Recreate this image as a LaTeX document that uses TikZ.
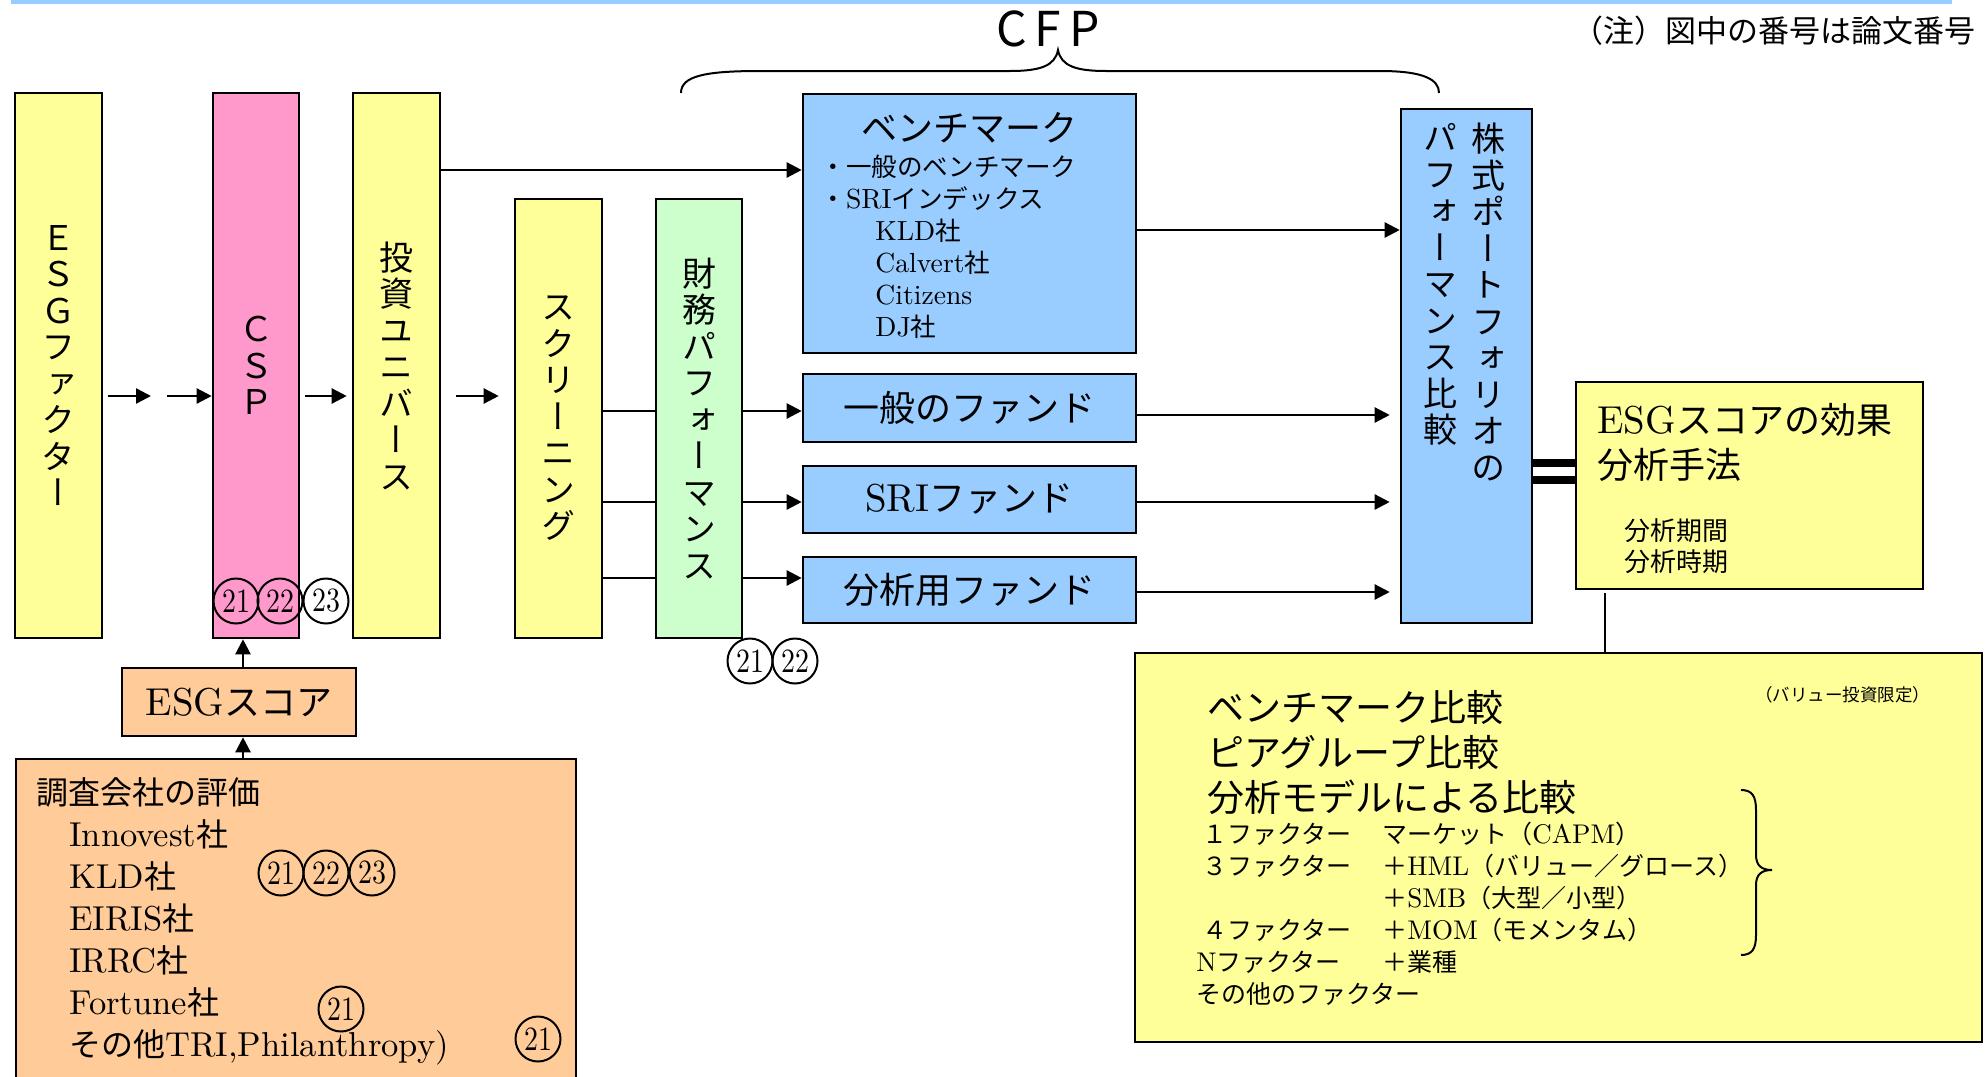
\documentclass[tikz,border=0pt]{standalone}
\usepackage{fontspec}
\setmainfont{Noto Sans CJK JP}
\newfontfamily\jpv[RawFeature=+vert]{Noto Sans CJK JP}
\newfontfamily\lat[Scale=1.08]{lmroman10-regular.otf}
\newfontfamily\latc[FakeStretch=0.82]{lmroman10-regular.otf}
\usetikzlibrary{arrows.meta}
\definecolor{cyel}{HTML}{FFFF99}
\definecolor{cpink}{HTML}{FF99CC}
\definecolor{cgreen}{HTML}{CCFFCC}
\definecolor{cblue}{HTML}{99CCFF}
\definecolor{corange}{HTML}{FFCC99}
\tikzset{
  box/.style={draw, line width=1.3pt, inner sep=0pt},
  vt/.style={font=\jpv\fontsize{17}{18.25}\selectfont, align=center, inner sep=0pt},
  arr/.style={line width=1.2pt, -{Triangle[length=7.5pt,width=7.5pt]}},
  ln/.style={line width=1.2pt},
  num/.style={draw, circle, line width=1pt, minimum size=22.5pt, inner sep=0pt, font=\latc\fontsize{17}{17}\selectfont},
  txt/.style={inner sep=0pt, align=left},
}
\begin{document}
\begin{tikzpicture}[x=0.5pt,y=-0.5pt]
\useasboundingbox (0,0) rectangle (1986,1076);
\fill[cblue] (11,0) rectangle (1952,4);

% title and note
\node[inner sep=0pt, font=\fontsize{24}{24}\selectfont] (cfp) at (1048,29) {C\hspace{4pt}F\hspace{4pt}P};
\node[inner sep=0pt, anchor=east, font=\fontsize{15.5}{15.5}\selectfont] (note) at (1976,31) {（注）図中の番号は論文番号};
\draw[line width=1pt] (681,93) .. controls (681,76) and (705,71) .. (760,71) -- (1010,71)
  .. controls (1040,71) and (1055,66) .. (1058,50) .. controls (1061,66) and (1076,71) .. (1106,71)
  -- (1380,71) .. controls (1425,71) and (1439,80) .. (1439,93);

% vertical boxes
\node[box, fill=cyel, minimum width=43.5pt, minimum height=272.5pt, vt] (esg) at (58.5,365.5) {Ｅ\\Ｓ\\Ｇ\\フ\\ァ\\ク\\タ\\ー};
\node[box, fill=cpink, minimum width=43pt, minimum height=272.5pt, vt] (csp) at (256,365.5) {Ｃ\\Ｓ\\Ｐ};
\node[box, fill=cyel, minimum width=43.5pt, minimum height=272.5pt, vt] (inv) at (396.5,365.5) {投\\資\\ユ\\ニ\\バ\\ー\\ス};
\node[box, fill=cyel, minimum width=43.5pt, minimum height=219.5pt, vt] (scr) at (558.5,418.5) {ス\\ク\\リ\\ー\\ニ\\ン\\グ};
\node[box, fill=cgreen, minimum width=43pt, minimum height=219.5pt, vt] (fin) at (699,418.5) {財\\務\\パ\\フ\\ォ\\ー\\マ\\ン\\ス};

% benchmark box
\node[box, fill=cblue, minimum width=166.5pt, minimum height=129.5pt] (bm) at (969.5,223.5) {};
\node[inner sep=0pt, font=\fontsize{18}{18}\selectfont] (bmt) at (969.5,128) {ベンチマーク};
\node[txt, anchor=north west, font=\fontsize{12.8}{16}\selectfont] (bml) at (820,155)
  {・一般のベンチマーク\\・{\lat SRI}インデックス\\\hspace*{27.5pt}{\lat KLD}社\\\hspace*{27.5pt}{\lat Calvert}社\\\hspace*{27.5pt}{\lat Citizens}\\\hspace*{27.5pt}{\lat DJ}社};

% fund boxes
\node[box, fill=cblue, minimum width=166.5pt, minimum height=34pt, font=\fontsize{18}{18}\selectfont] (f1) at (969.5,408) {一般のファンド};
\node[box, fill=cblue, minimum width=166.5pt, minimum height=33.5pt, font=\fontsize{18}{18}\selectfont] (f2) at (969.5,499.5) {{\lat SRI}ファンド};
\node[box, fill=cblue, minimum width=166.5pt, minimum height=33pt, font=\fontsize{18}{18}\selectfont] (f3) at (969.5,590) {分析用ファンド};

% portfolio box
\node[box, fill=cblue, minimum width=65.5pt, minimum height=257pt] (port) at (1466.5,366) {};
\node[vt, anchor=north] (portR) at (1488,123) {株\\式\\ポ\\ー\\ト\\フ\\ォ\\リ\\オ\\の};
\node[vt, anchor=north] (portL) at (1440,123) {パ\\フ\\ォ\\ー\\マ\\ン\\ス\\比\\較};

% effect box
\node[box, fill=cyel, minimum width=173.5pt, minimum height=103.5pt] (eff) at (1749.5,485.5) {};
\node[txt, anchor=north west, font=\fontsize{18}{22.5}\selectfont] (effT) at (1597,403) {{\lat ESG}スコアの効果\\分析手法};
\node[txt, anchor=north west, font=\fontsize{13}{15.5}\selectfont] (effS) at (1624,518) {分析期間\\分析時期};

% big box
\node[box, fill=cyel, minimum width=423.5pt, minimum height=194.5pt] (big) at (1558.5,847.5) {};
\node[txt, anchor=north west, font=\fontsize{18.5}{22.5}\selectfont] (bigT) at (1207,690) {ベンチマーク比較\\ピアグループ比較\\分析モデルによる比較};
\node[txt, anchor=north west, font=\fontsize{12.5}{16}\selectfont] (bigS) at (1202,822)
  {\makebox[90pt][l]{１ファクター}マーケット（{\lat CAPM}）\\
   \makebox[90pt][l]{３ファクター}＋{\lat HML}（バリュー／グロース）\\
   \makebox[90pt][l]{}＋{\lat SMB}（大型／小型）\\
   \makebox[90pt][l]{４ファクター}＋{\lat MOM}（モメンタム）\\
   \hspace*{-3pt}\makebox[93pt][l]{{\lat N}ファクター}＋業種\\
   \hspace*{-3pt}その他のファクター};
\node[inner sep=0pt, anchor=west, font=\fontsize{8.75}{8.75}\selectfont] (val) at (1755,695) {（バリュー投資限定）};
\draw[line width=1pt] (1741,790) .. controls (1752,790) and (1756,796) .. (1756,810) -- (1756,855)
  .. controls (1756,866) and (1762,870) .. (1772,870) .. controls (1762,870) and (1756,874) .. (1756,885)
  -- (1756,935) .. controls (1756,949) and (1752,955) .. (1741,955);

% ESG score and survey
\node[box, fill=corange, minimum width=117pt, minimum height=34pt, font=\fontsize{18}{18}\selectfont] (esgscore) at (239,702) {{\lat ESG}スコア};
\node[box, fill=corange, minimum width=280pt, minimum height=160.5pt] (survey) at (296,919.5) {};
\node[txt, anchor=north west, font=\fontsize{16}{21}\selectfont] (surveyT) at (36,777)
  {調査会社の評価\\\hspace*{16.5pt}{\lat Innovest}社\\\hspace*{16.5pt}{\lat KLD}社\\\hspace*{16.5pt}{\lat EIRIS}社\\\hspace*{16.5pt}{\lat IRRC}社\\\hspace*{16.5pt}{\lat Fortune}社\\\hspace*{16.5pt}その他{\lat TRI,Philanthropy)}};

% circled paper numbers
\node[num] (c1) at (236,601) {21};
\node[num] (c2) at (280,601) {22};
\node[num] (c3) at (326,601) {23};
\node[num] (c4) at (750,661) {21};
\node[num] (c5) at (795,661) {22};
\node[num] (c6) at (281,873) {21};
\node[num] (c7) at (326,873) {22};
\node[num] (c8) at (372,873) {23};
\node[num] (c9) at (341,1009) {21};
\node[num] (c10) at (538,1039) {21};

% coordinates
\coordinate (r1) at (0,396);
\coordinate (m1) at (151,396);
\coordinate (m2) at (167,396);
\coordinate (y170) at (0,170);
\coordinate (y230) at (0,230);
\coordinate (yA) at (0,411);
\coordinate (yB) at (0,502);
\coordinate (yC) at (0,578);
\coordinate (yD) at (0,415);
\coordinate (yE) at (0,502);
\coordinate (yF) at (0,592);
\coordinate (cx) at (243,0);
\coordinate (d1) at (0,463);
\coordinate (d2) at (0,480);
\coordinate (e1) at (1605,593);

% connectors
\draw[arr, shorten <=2.5pt] (esg.east |- r1) -- (m1);
\draw[arr] (m2) -- (csp.west |- r1);
\draw[arr, shorten <=2.5pt, shorten >=2.5pt] (csp.east |- r1) -- (inv.west |- r1);
\draw[arr, shorten <=7.5pt, shorten >=7.5pt] (inv.east |- r1) -- (scr.west |- r1);
\draw[arr] (inv.east |- y170) -- (bm.west |- y170);
\draw[arr] (bm.east |- y230) -- (port.west |- y230);
\draw[ln] (scr.east |- yA) -- (fin.west |- yA);
\draw[ln] (scr.east |- yB) -- (fin.west |- yB);
\draw[ln] (scr.east |- yC) -- (fin.west |- yC);
\draw[arr] (fin.east |- yA) -- (f1.west |- yA);
\draw[arr] (fin.east |- yB) -- (f2.west |- yB);
\draw[arr] (fin.east |- yC) -- (f3.west |- yC);
\draw[arr, shorten >=5pt] (f1.east |- yD) -- (port.west |- yD);
\draw[arr, shorten >=5pt] (f2.east |- yE) -- (port.west |- yE);
\draw[arr, shorten >=5pt] (f3.east |- yF) -- (port.west |- yF);
\draw[arr] (esgscore.north -| cx) -- (csp.south -| cx);
\draw[arr] (survey.north -| cx) -- (esgscore.south -| cx);
\draw[line width=4pt] (port.east |- d1) -- (eff.west |- d1);
\draw[line width=4pt] (port.east |- d2) -- (eff.west |- d2);
\draw[line width=1pt] (e1) -- (big.north -| e1);
\end{tikzpicture}
\end{document}
